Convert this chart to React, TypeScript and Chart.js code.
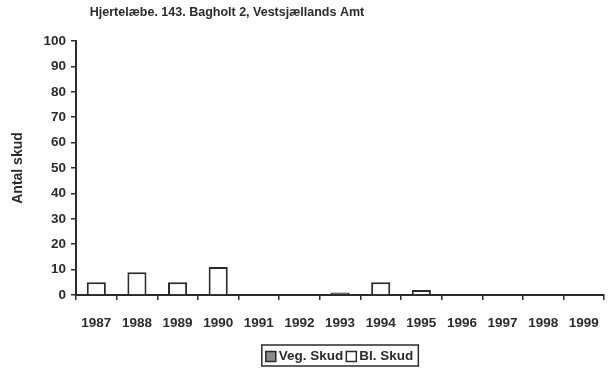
import React, { useEffect, useRef } from "react";
import { Chart, registerables } from "chart.js";

Chart.register(...registerables);

const years = ["1987", "1988", "1989", "1990", "1991", "1992", "1993", "1994", "1995", "1996", "1997", "1998", "1999"];
const vegSkud = [0, 0, 0, 0, 0, 0, 1, 0, 0, 0, 0, 0, 0];
const blSkud = [5, 9, 5, 11, 0, 0, 0, 5, 2, 0, 0, 0, 0];
const yTicks = [0, 10, 20, 30, 40, 50, 60, 70, 80, 90, 100];

const chartTitle = "Hjertelæbe. 143. Bagholt 2, Vestsjællands Amt";
const yTitle = "Antal skud";
const seriesNames = ["Veg. Skud", "Bl. Skud"];

const INK = "#2b2b2b";
const FONT = "'Liberation Sans', Arial, sans-serif";

const titlePlugin = {
  id: "topTitle",
  afterDraw(chart: any) {
    const ctx = chart.ctx;
    ctx.save();
    ctx.fillStyle = INK;
    ctx.font = `bold 12.5px ${FONT}`;
    ctx.textAlign = "center";
    ctx.textBaseline = "middle";
    ctx.fillText(chartTitle, 227, 13);
    ctx.restore();
  },
};

const boxedLegend = {
  id: "boxedLegend",
  afterDraw(chart: any) {
    const ctx = chart.ctx;
    const area = chart.chartArea;
    ctx.save();
    ctx.font = `bold 13.5px ${FONT}`;
    ctx.textBaseline = "middle";
    const box = 10;
    const gap = 3;
    const itemGap = 3;
    const widths = seriesNames.map((n) => box + gap + ctx.measureText(n).width);
    const total = widths.reduce((a, b) => a + b, 0) + itemGap + 9;
    const cx = (area.left + area.right) / 2;
    const left = cx - total / 2;
    const top = 345;
    const h = 21;
    ctx.strokeStyle = INK;
    ctx.lineWidth = 1.5;
    ctx.strokeRect(left, top, total, h);
    let x = left + 4;
    const y = top + h / 2 + 1;
    seriesNames.forEach((n, i) => {
      ctx.lineWidth = 1.5;
      ctx.fillStyle = i === 0 ? "#8a8a8a" : "#fff";
      ctx.fillRect(x, y - box / 2, box, box);
      ctx.strokeRect(x, y - box / 2, box, box);
      ctx.fillStyle = INK;
      ctx.textAlign = "left";
      ctx.fillText(n, x + box + gap, y);
      x += widths[i] + itemGap;
    });
    ctx.restore();
  },
};

export default function App() {
  const ref = useRef<HTMLCanvasElement>(null);

  useEffect(() => {
    if (!ref.current) return;
    const chart = new Chart(ref.current, {
      type: "bar",
      data: {
        labels: years,
        datasets: [
          {
            label: seriesNames[0],
            data: vegSkud,
            backgroundColor: "#555",
            borderColor: INK,
            borderWidth: 2,
          },
          {
            label: seriesNames[1],
            data: blSkud,
            backgroundColor: "#ffffff",
            borderColor: INK,
            borderWidth: 2,
          },
        ],
      },
      options: {
        responsive: false,
        animation: false,
        maintainAspectRatio: false,
        layout: { padding: { top: 41, right: 4, left: 0, bottom: 0 } },
        datasets: { bar: { categoryPercentage: 1, barPercentage: 0.47 } },
        plugins: {
          legend: { display: false },
          title: { display: false },
          tooltip: { enabled: false },
        },
        scales: {
          x: {
            stacked: true,
            offset: true,
            grid: { display: true, drawOnChartArea: false, drawTicks: true, tickLength: 5, offset: true, color: INK, lineWidth: 1.5 },
            border: { display: true, color: INK, width: 2 },
            ticks: { color: INK, font: { family: FONT, size: 13.5, weight: "bold" }, padding: 15, maxRotation: 0, autoSkip: false },
            afterFit(scale: any) {
              scale.height = 79;
            },
          },
          y: {
            stacked: true,
            min: 0,
            max: 100,
            afterBuildTicks(scale: any) {
              scale.ticks = yTicks.map((v) => ({ value: v }));
            },
            grid: { display: true, drawOnChartArea: false, drawTicks: true, tickLength: 5, color: INK, lineWidth: 1.5 },
            border: { display: true, color: INK, width: 2 },
            ticks: { color: INK, font: { family: FONT, size: 13.5, weight: "bold" }, padding: 5 },
            title: {
              display: true,
              text: yTitle,
              color: INK,
              font: { family: FONT, size: 14, weight: "bold" },
              padding: { top: 10, bottom: 0 },
            },
            afterFit(scale: any) {
              scale.width = 76;
            },
          },
        },
      },
      plugins: [titlePlugin, boxedLegend],
    });
    return () => chart.destroy();
  }, []);

  return (
    <div style={{ position: "fixed", left: 0, top: 0, width: 614, height: 374, background: "#fff" }}>
      <canvas ref={ref} width={614} height={374} />
    </div>
  );
}
